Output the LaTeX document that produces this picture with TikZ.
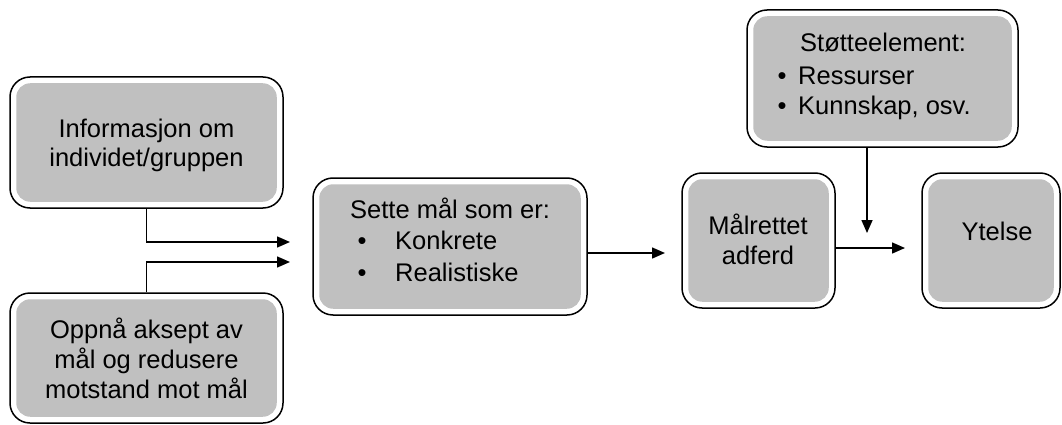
\documentclass[tikz,border=0pt]{standalone}
\usepackage{fontspec}
\setmainfont{Liberation Sans}
\usetikzlibrary{arrows.meta,calc}
\definecolor{boxgrey}{RGB}{192,192,192}
\tikzset{
  outerbox/.style={draw=black, line width=1.5pt, fill=white, rounded corners=20pt, inner sep=0pt},
  greyfill/.style={fill=boxgrey, rounded corners=14pt},
  txt/.style={anchor=base, inner sep=0pt, font=\fontsize{25.5}{29}\selectfont},
  bul/.style={txt, anchor=base},
  conn/.style={line width=1.5pt, -{Triangle[length=13pt,width=11pt]}},
}
% framed box: white band between the black outline and the grey face
\newcommand\greybox[5]{%
  \node[outerbox, minimum width=#4pt, minimum height=#5pt] (#1) at (#2,#3) {};
  \path[greyfill] ($(#1.north west)+(7,7)$) rectangle ($(#1.south east)+(-7,-7)$);
}
\begin{document}
\begin{tikzpicture}[x=1pt,y=-1pt]
\useasboundingbox (0,0) rectangle (1062,425);

% boxes
\greybox{info}{146.5}{142.5}{273}{131}
\greybox{accept}{146.5}{358}{273}{130}
\greybox{goal}{450}{246.5}{274}{137}
\greybox{behav}{758.5}{240.5}{153}{135}
\greybox{support}{882.5}{78.5}{271}{137}
\greybox{perf}{991}{240.5}{138}{135}

% texts
\node[txt] (info1) at (146.5,138) {Informasjon om};
\node[txt] (info2) at (146.5,166) {individet/gruppen};

\node[txt] (acc1) at (146.5,338) {Oppnå aksept av};
\node[txt] (acc2) at (146.5,368) {mål og redusere};
\node[txt] (acc3) at (146.5,398) {motstand mot mål};

\node[txt, anchor=base west] (goal0) at (350,218) {Sette mål som er:};
\node[bul] (goalb1) at (362,249) {•};
\node[txt, anchor=base west] (goal1) at (395,249) {Konkrete};
\node[bul] (goalb2) at (362,281) {•};
\node[txt, anchor=base west] (goal2) at (395,281) {Realistiske};

\node[txt] (beh1) at (758,234) {Målrettet};
\node[txt] (beh2) at (758,264) {adferd};

\node[txt, anchor=base west] (sup0) at (800,52) {Støtteelement:};
\node[bul] (supb1) at (782,85) {•};
\node[txt, anchor=base west] (sup1) at (798,85) {Ressurser};
\node[bul] (supb2) at (782,115) {•};
\node[txt, anchor=base west] (sup2) at (798,115) {Kunnskap, osv.};

\node[txt] (perf1) at (997,240) {Ytelse};

% free arrow ends
\coordinate (in1) at (290,242);
\coordinate (in2) at (290,262);
\coordinate (in3) at (665,253);
\coordinate (in4) at (905,248);
\coordinate (in5) at (867,233);

% connectors
\draw[conn] (info.south) |- (in1);
\draw[conn] (accept.north) |- (in2);
\draw[conn] (goal.east |- in3) -- (in3);
\draw[conn] (behav.east |- in4) -- (in4);
\draw[conn] (in5 |- support.south) -- (in5);
\end{tikzpicture}
\end{document}
